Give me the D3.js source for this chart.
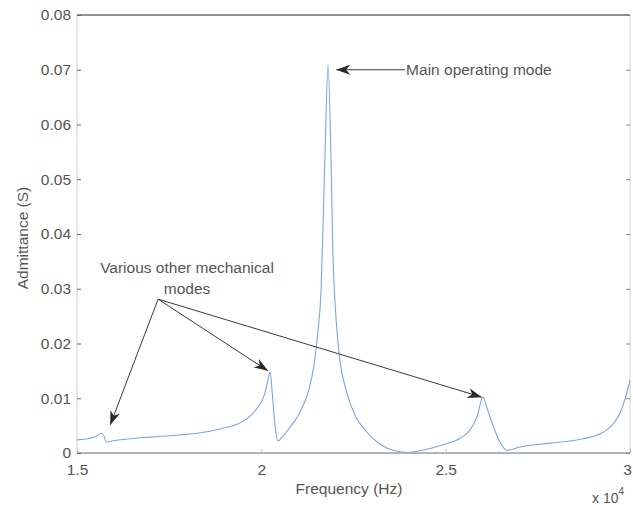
<!DOCTYPE html>
<html>
<head>
<meta charset="utf-8">
<script src="https://cdn.jsdelivr.net/npm/d3@7"></script>
<style>
  html, body { margin: 0; padding: 0; background: #fff; }
  svg { display: block; }
  text { font-family: "Liberation Sans", Arial, Helvetica, sans-serif; fill: #555; }
</style>
</head>
<body>
<svg id="chart" width="633" height="505"></svg>
<script>
// Frequency in units of 1e4 Hz
const frequency = [1.500, 1.535, 1.554, 1.565, 1.573, 1.579, 1.595, 1.644, 1.698, 1.779, 1.834, 1.888,
  1.942, 1.975, 1.996, 2.010, 2.018, 2.024, 2.029, 2.037, 2.045, 2.056, 2.078, 2.105, 2.127, 2.143,
  2.154, 2.162, 2.167, 2.173, 2.181, 2.189, 2.194, 2.203, 2.213, 2.230, 2.254, 2.281, 2.322,
  2.363, 2.400, 2.430, 2.493, 2.539, 2.566, 2.585, 2.601, 2.612, 2.628, 2.647, 2.666, 2.702, 2.783,
  2.873, 2.919, 2.954, 2.973, 2.987, 3.000];
// Admittance in S
const admittance = [0.0024, 0.0027, 0.0031, 0.0036, 0.0031, 0.0020, 0.0022, 0.0026, 0.0029, 0.0033, 0.0037, 0.0044,
  0.0055, 0.0071, 0.0089, 0.0110, 0.0133, 0.0148, 0.0115, 0.0051, 0.0022, 0.0029, 0.0047, 0.0075, 0.0111, 0.0161,
  0.0225, 0.0298, 0.0407, 0.0553, 0.0709, 0.0535, 0.0371, 0.0243, 0.0170, 0.0115, 0.0069, 0.0042, 0.0016,
  0.0004, 0.0001, 0.0004, 0.0015, 0.0027, 0.0042, 0.0066, 0.0102, 0.0082, 0.0051, 0.0020, 0.0005, 0.0011, 0.0018,
  0.0026, 0.0035, 0.0053, 0.0073, 0.0100, 0.0133];

const xTicks = [1.5, 2, 2.5, 3];
const xTickLabels = ["1.5", "2", "2.5", "3"];
const yTicks = [0, 0.01, 0.02, 0.03, 0.04, 0.05, 0.06, 0.07, 0.08];
const yTickLabels = ["0", "0.01", "0.02", "0.03", "0.04", "0.05", "0.06", "0.07", "0.08"];

const xLabel = "Frequency (Hz)";
const yLabel = "Admittance (S)";
const xExponent = "4";

// Annotations in data coordinates
const mainLabel = "Main operating mode";
const mainArrow = {from: [2.390, 0.0700], to: [2.203, 0.0700]};
const otherLabel = ["Various other mechanical", "modes"];
const otherTail = [1.720, 0.0281];
const otherTips = [[1.590, 0.0051], [2.018, 0.0150], [2.598, 0.0102]];

const svg = d3.select("#chart");
const L = 77, R = 630, T = 15, B = 453;

const x = d3.scaleLinear().domain([1.5, 3]).range([L, R]);
const y = d3.scaleLinear().domain([0, 0.08]).range([B, T]);

// frame
svg.append("line").attr("x1", L).attr("x2", R).attr("y1", T).attr("y2", T).attr("stroke", "#222").attr("stroke-width", 1.2);
svg.append("line").attr("x1", L).attr("x2", L).attr("y1", T).attr("y2", B).attr("stroke", "#cfcfcf").attr("stroke-width", 1);
svg.append("line").attr("x1", R).attr("x2", R).attr("y1", T).attr("y2", B).attr("stroke", "#cfcfcf").attr("stroke-width", 1);
svg.append("line").attr("x1", L).attr("x2", R).attr("y1", B).attr("y2", B).attr("stroke", "#6a6a6a").attr("stroke-width", 1);

// axes
const yAxis = d3.axisLeft(y).tickValues(yTicks).tickFormat((d, i) => yTickLabels[i]).tickSize(-4).tickPadding(6);
const gy = svg.append("g").attr("transform", `translate(${L},0)`).call(yAxis);
gy.select(".domain").remove();
gy.selectAll(".tick line").attr("stroke", "#666");
gy.selectAll(".tick text").style("font-size", "15.5px").attr("fill", "#555").style("font-family", null);

const yAxisR = d3.axisRight(y).tickValues(yTicks).tickFormat("").tickSize(-4);
const gyr = svg.append("g").attr("transform", `translate(${R},0)`).call(yAxisR);
gyr.select(".domain").remove();
gyr.selectAll(".tick line").attr("stroke", "#888");

const xAxis = d3.axisBottom(x).tickValues(xTicks).tickFormat((d, i) => xTickLabels[i]).tickSize(-4).tickPadding(11);
const gx = svg.append("g").attr("transform", `translate(0,${B})`).call(xAxis);
gx.select(".domain").remove();
gx.selectAll(".tick line").attr("stroke", "#bbb");
gx.selectAll(".tick text").style("font-size", "15.5px").attr("fill", "#555").style("font-family", null)
  .attr("dx", (d, i) => i === xTicks.length - 1 ? -3 : 0);

// axis labels
svg.append("text").attr("x", 349).attr("y", 494).attr("text-anchor", "middle")
  .style("font-size", "15.5px").text(xLabel);
svg.append("text").attr("transform", "translate(28,238) rotate(-90)").attr("text-anchor", "middle")
  .style("font-size", "15.5px").text(yLabel);
const ex = svg.append("text").attr("x", 592).attr("y", 503).style("font-size", "14px");
ex.append("tspan").text("x 10");
ex.append("tspan").attr("dy", -8).style("font-size", "10px").text(xExponent);

// curve
const pts = frequency.map((f, i) => [f, admittance[i]]);
const line = d3.line().x(d => x(d[0])).y(d => y(d[1])).curve(d3.curveMonotoneX);
svg.append("path").datum(pts).attr("d", line).attr("fill", "none")
  .attr("stroke", "#7ea6dc").attr("stroke-width", 1.1);

// arrowhead marker
const defs = svg.append("defs");
defs.append("marker").attr("id", "ah").attr("viewBox", "0 0 14 10").attr("refX", 14).attr("refY", 5)
  .attr("markerWidth", 14).attr("markerHeight", 10).attr("markerUnits", "userSpaceOnUse").attr("orient", "auto")
  .append("path").attr("d", "M0,0 L14,5 L0,10 L4,5 Z").attr("fill", "#2a2a2a");

function arrow(a, b) {
  svg.append("line").attr("x1", x(a[0])).attr("y1", y(a[1])).attr("x2", x(b[0])).attr("y2", y(b[1]))
    .attr("stroke", "#3a3a3a").attr("stroke-width", 1).attr("marker-end", "url(#ah)");
}
arrow(mainArrow.from, mainArrow.to);
otherTips.forEach(t => arrow(otherTail, t));

svg.append("text").attr("x", x(mainArrow.from[0]) + 1).attr("y", 75).style("font-size", "15.5px").text(mainLabel);
svg.append("text").attr("x", 187).attr("y", 273).attr("text-anchor", "middle").style("font-size", "15.5px").text(otherLabel[0]);
svg.append("text").attr("x", 187).attr("y", 294).attr("text-anchor", "middle").style("font-size", "15.5px").text(otherLabel[1]);
</script>
</body>
</html>
